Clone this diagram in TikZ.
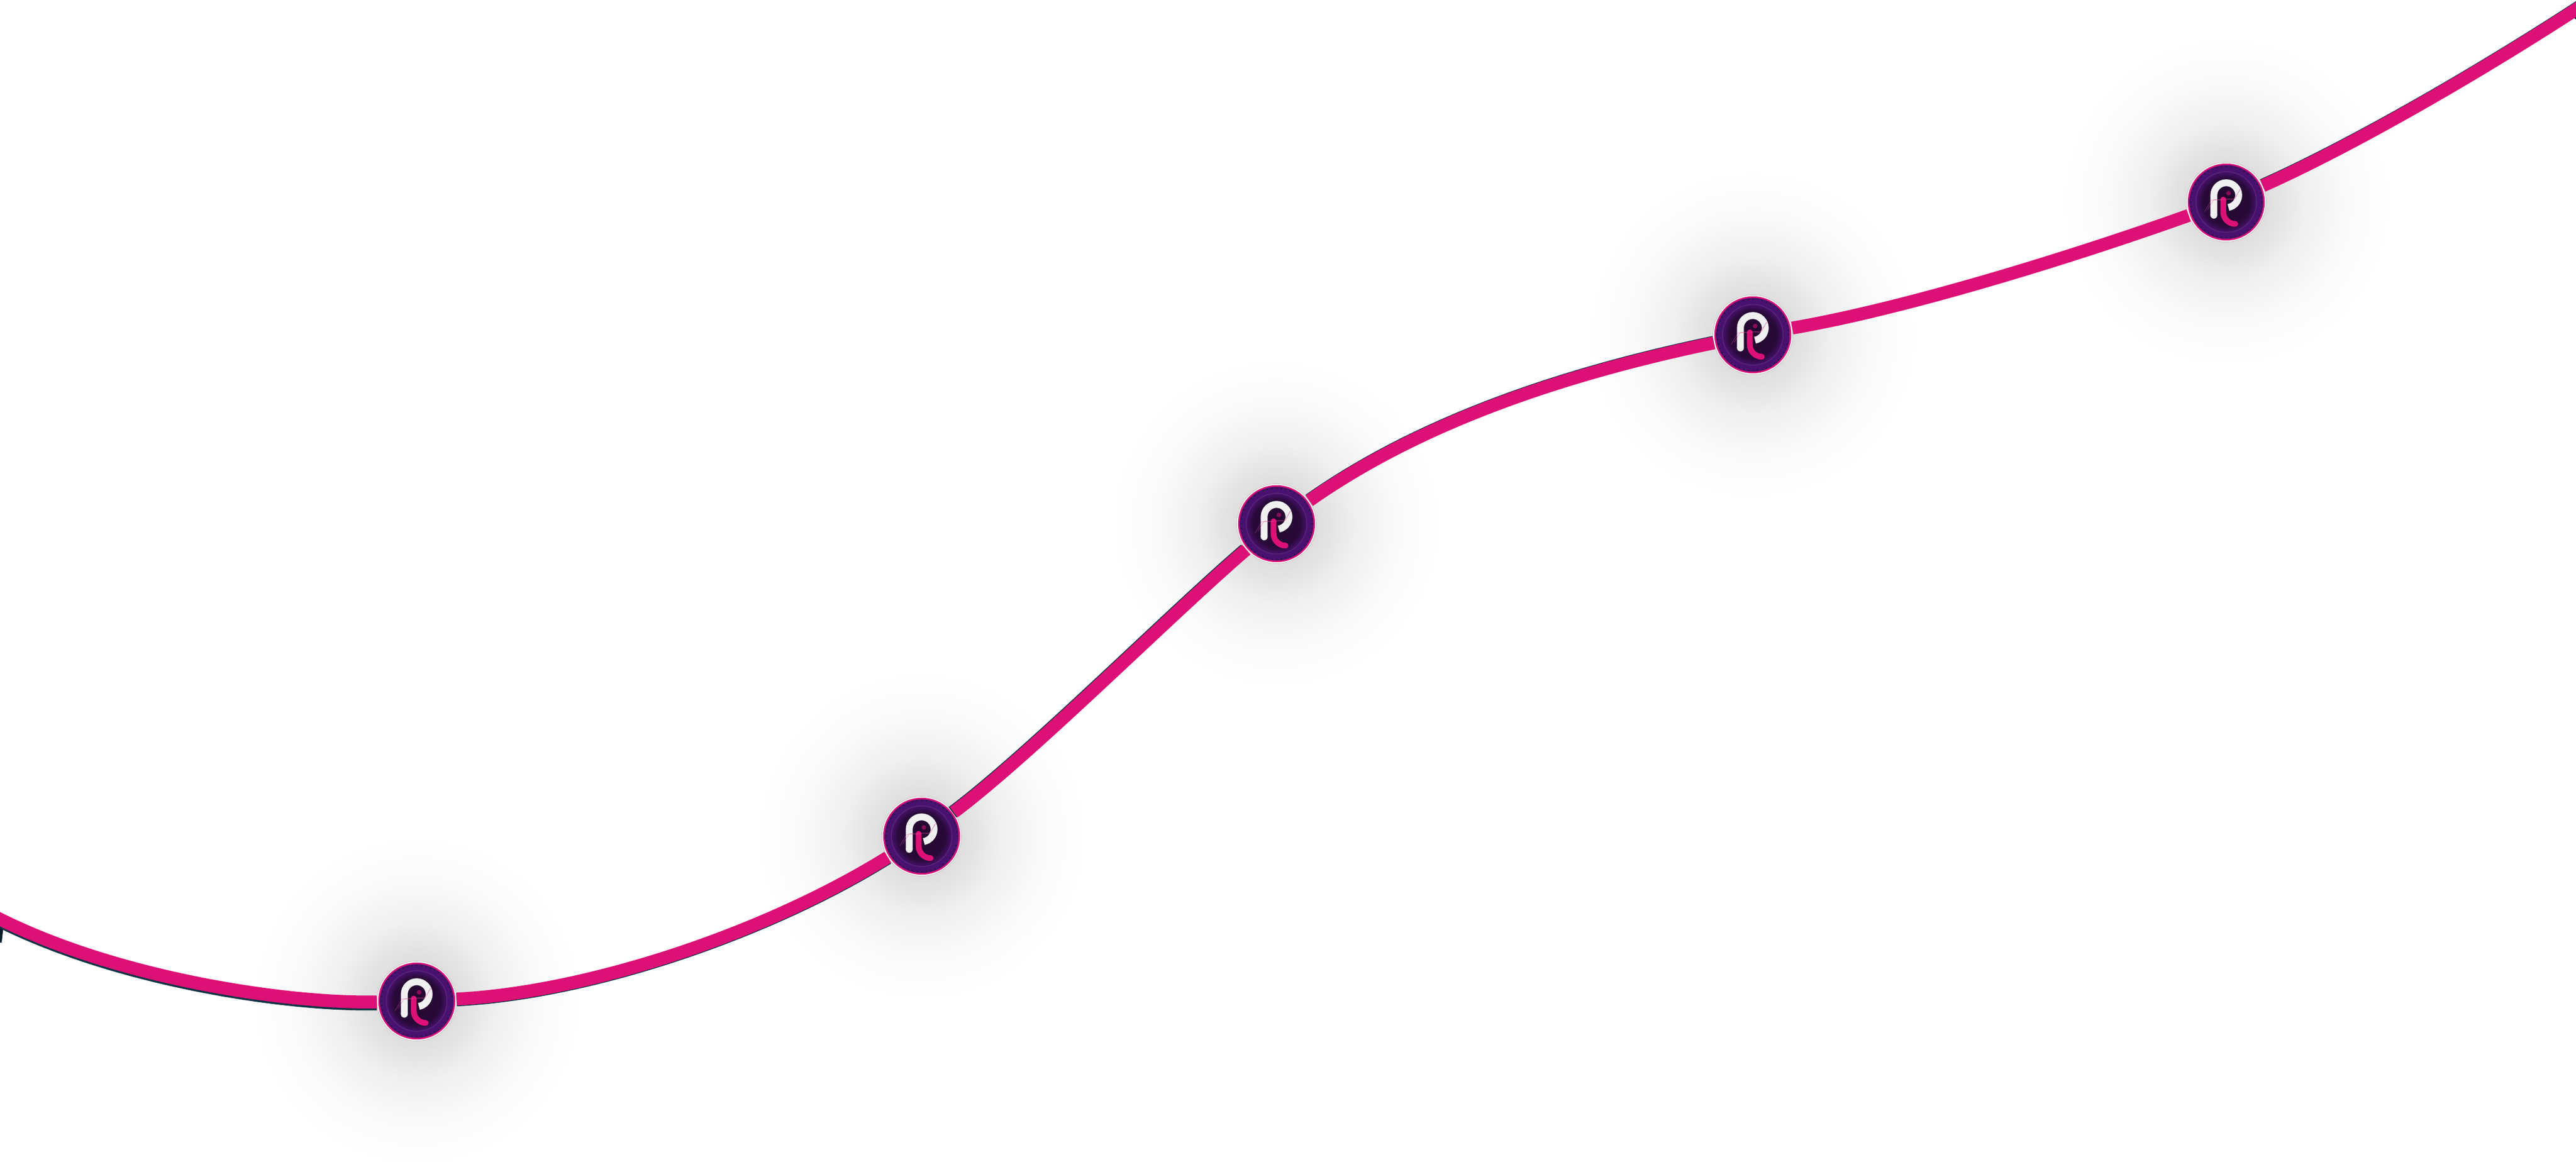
\documentclass[tikz,border=0pt]{standalone}
\usepackage{tikz}
\definecolor{ribbonpink}{HTML}{DC1076}
\definecolor{ribbonedge}{HTML}{0A3444}
\definecolor{coinpurple}{HTML}{4A1270}
\definecolor{coindark}{HTML}{22082E}
\pgfdeclareradialshading{glow}{\pgfpoint{0bp}{0bp}}{color(0bp)=(black!16); color(6bp)=(black!13); color(12bp)=(black!6); color(18bp)=(black!2); color(25bp)=(white); color(50bp)=(white)}
\pgfdeclareradialshading{coinface}{\pgfpoint{0bp}{0bp}}{color(0bp)=(coindark); color(16bp)=(coindark!85!coinpurple); color(21bp)=(coinpurple); color(25bp)=(coinpurple); color(50bp)=(coinpurple)}
\tikzstyle{coin} = [circle, minimum size=1.39cm, inner sep=0pt, draw=black!25, line width=0.006cm, fill=white]
\tikzstyle{ribbon} = [line width=0.225cm, draw=ribbonpink]
\tikzstyle{edgeline} = [line width=0.225cm, draw=ribbonedge]
\tikzstyle{trace} = [ribbonpink!70, line width=0.006cm, opacity=0.55]
\newcommand{\coinlogo}[1]{
  \begin{scope}[shift={(#1.center)}]
    \fill [ribbonpink] (0,0) circle (0.672);
    \shade [shading=coinface] (0,0) circle (0.645);
    \draw [coinpurple!80!white, line width=0.012cm, opacity=0.5] (0,0) circle (0.53);
    \foreach \a in {0,7.5,...,352} {
      \fill [black!90] (\a:0.62) circle (0.012);
    }
    \fill [ribbonpink!70!coindark, opacity=0.8] (0.04,0.153) circle (0.04);
    \fill [white!94!black] (-0.217,-0.23) circle (0.06);
    \draw [white!94!black, line width=0.12cm] (-0.217,-0.23) -- (-0.217,0.12) arc [start angle=180, end angle=-80, radius=0.217];
    \draw [ribbonpink, line width=0.1cm, line cap=round] (-0.053,0.043) -- (-0.053,-0.173) arc [start angle=180, end angle=270, radius=0.21];
    \draw [trace] (-0.377,-0.167) -- (-0.26,0.033) -- (0.123,0.043) -- (0.26,0.233);
    \draw [trace] (-0.327,-0.133) -- (-0.217,0.043) -- (0.157,0.06) -- (0.24,0.23);
  \end{scope}
}

\begin{document}
\begin{tikzpicture}
\useasboundingbox (0,0) rectangle (45,20.39);
\clip (0,0) rectangle (45,20.39);
% Coordinates
\coordinate (p1) at (7.28,2.90);
\coordinate (p2) at (16.10,5.78);
\coordinate (p3) at (22.30,11.24);
\coordinate (p4) at (30.62,14.54);
\coordinate (p5) at (38.89,16.86);
\coordinate (startpt) at (-0.1,4.38);
\coordinate (endpt) at (45.1,20.29);

% Glow
\foreach \p in {p1,p2,p3,p4,p5} {
  \shade [shading=glow] (\p) circle (2.9);
}

% Nodes
\node (n1) [coin] at (p1) {};
\node (n2) [coin] at (p2) {};
\node (n3) [coin] at (p3) {};
\node (n4) [coin] at (p4) {};
\node (n5) [coin] at (p5) {};
\foreach \n in {n1,n2,n3,n4,n5} {
  \coinlogo{\n}
}

% Dark edge
\fill [ribbonedge!60!black] (0,4.22) -- (0.06,4.2) -- (0.03,3.92) -- (0,3.92) -- cycle;
\fill [ribbonedge!60!black] (44.95,20.09) -- (45,20.09) -- (45,20.05) -- cycle;
\draw [edgeline, transform canvas={yshift=-1pt}] (startpt) .. controls (2,3.3) and (5,2.85) .. (n1);
\draw [edgeline, transform canvas={yshift=-0.4pt}] (n1) .. controls (10.3,3.05) and (13.4,4.1) .. (n2);
\draw [edgeline, transform canvas={xshift=-0.6pt}] (n2) .. controls (18,7.2) and (20.5,9.7) .. (n3);
\draw [edgeline, transform canvas={yshift=0.3pt}] (n3) .. controls (24.8,13) and (27.3,13.85) .. (n4);
\draw [edgeline, transform canvas={yshift=0.3pt}] (n5) .. controls (41,17.8) and (43.2,19.05) .. (endpt);

% Ribbon
\draw [ribbon] (startpt) .. controls (2,3.3) and (5,2.85) .. (n1);
\draw [ribbon] (n1) .. controls (10.3,3.05) and (13.4,4.1) .. (n2);
\draw [ribbon] (n2) .. controls (18,7.2) and (20.5,9.7) .. (n3);
\draw [ribbon] (n3) .. controls (24.8,13) and (27.3,13.85) .. (n4);
\draw [ribbon] (n4) .. controls (33.3,15) and (36.2,15.9) .. (n5);
\draw [ribbon] (n5) .. controls (41,17.8) and (43.2,19.05) .. (endpt);
\end{tikzpicture}
\end{document}
